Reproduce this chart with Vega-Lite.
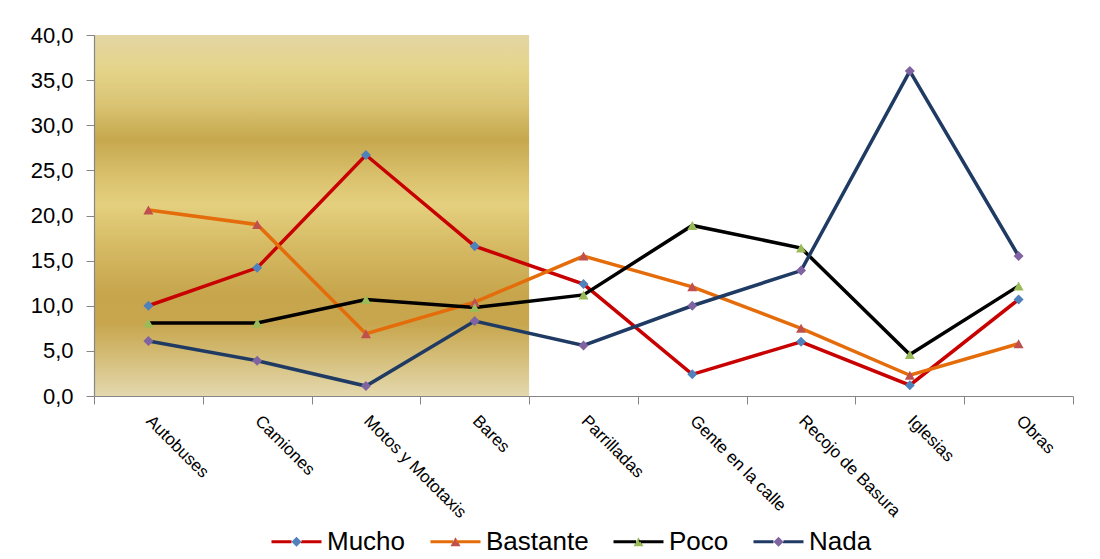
{
  "$schema": "https://vega.github.io/schema/vega-lite/v6.json",
  "width": 979,
  "height": 361,
  "autosize": "none",
  "padding": {"left": 94, "top": 35, "right": 27, "bottom": 163},
  "background": "white",
  "config": {"view": {"stroke": null}, "font": "Liberation Sans"},
  "datasets": {
    "zona": [{"desde": "Autobuses", "hasta": "Bares"}],
    "respuestas": [
      {"categoria": "Autobuses", "serie": "Mucho", "valor": 10.0},
      {"categoria": "Camiones", "serie": "Mucho", "valor": 14.2},
      {"categoria": "Motos y Mototaxis", "serie": "Mucho", "valor": 26.7},
      {"categoria": "Bares", "serie": "Mucho", "valor": 16.6},
      {"categoria": "Parrilladas", "serie": "Mucho", "valor": 12.4},
      {"categoria": "Gente en la calle", "serie": "Mucho", "valor": 2.4},
      {"categoria": "Recojo de Basura", "serie": "Mucho", "valor": 6.0},
      {"categoria": "Iglesias", "serie": "Mucho", "valor": 1.2},
      {"categoria": "Obras", "serie": "Mucho", "valor": 10.7},
      {"categoria": "Autobuses", "serie": "Bastante", "valor": 20.6},
      {"categoria": "Camiones", "serie": "Bastante", "valor": 19.0},
      {"categoria": "Motos y Mototaxis", "serie": "Bastante", "valor": 6.9},
      {"categoria": "Bares", "serie": "Bastante", "valor": 10.4},
      {"categoria": "Parrilladas", "serie": "Bastante", "valor": 15.5},
      {"categoria": "Gente en la calle", "serie": "Bastante", "valor": 12.1},
      {"categoria": "Recojo de Basura", "serie": "Bastante", "valor": 7.5},
      {"categoria": "Iglesias", "serie": "Bastante", "valor": 2.3},
      {"categoria": "Obras", "serie": "Bastante", "valor": 5.8},
      {"categoria": "Autobuses", "serie": "Poco", "valor": 8.1},
      {"categoria": "Camiones", "serie": "Poco", "valor": 8.1},
      {"categoria": "Motos y Mototaxis", "serie": "Poco", "valor": 10.7},
      {"categoria": "Bares", "serie": "Poco", "valor": 9.8},
      {"categoria": "Parrilladas", "serie": "Poco", "valor": 11.2},
      {"categoria": "Gente en la calle", "serie": "Poco", "valor": 18.9},
      {"categoria": "Recojo de Basura", "serie": "Poco", "valor": 16.4},
      {"categoria": "Iglesias", "serie": "Poco", "valor": 4.6},
      {"categoria": "Obras", "serie": "Poco", "valor": 12.2},
      {"categoria": "Autobuses", "serie": "Nada", "valor": 6.1},
      {"categoria": "Camiones", "serie": "Nada", "valor": 3.9},
      {"categoria": "Motos y Mototaxis", "serie": "Nada", "valor": 1.1},
      {"categoria": "Bares", "serie": "Nada", "valor": 8.3},
      {"categoria": "Parrilladas", "serie": "Nada", "valor": 5.6},
      {"categoria": "Gente en la calle", "serie": "Nada", "valor": 10.0},
      {"categoria": "Recojo de Basura", "serie": "Nada", "valor": 13.9},
      {"categoria": "Iglesias", "serie": "Nada", "valor": 36.0},
      {"categoria": "Obras", "serie": "Nada", "valor": 15.5}
    ]
  },
  "layer": [
    {
      "data": {"name": "zona"},
      "mark": {
        "type": "rect",
        "fill": {
          "gradient": "linear",
          "x1": 0, "y1": 0, "x2": 0, "y2": 1,
          "stops": [
            {"offset": 0, "color": "#e3d6a4"},
            {"offset": 0.1, "color": "#e4d488"},
            {"offset": 0.19, "color": "#dac474"},
            {"offset": 0.29, "color": "#c6a84e"},
            {"offset": 0.39, "color": "#d9c06c"},
            {"offset": 0.47, "color": "#e4d07f"},
            {"offset": 0.58, "color": "#d6bb64"},
            {"offset": 0.72, "color": "#c6a54c"},
            {"offset": 0.8, "color": "#c7a64e"},
            {"offset": 0.9, "color": "#d5bf7c"},
            {"offset": 1, "color": "#e4d8ae"}
          ]
        }
      },
      "encoding": {
        "x": {
          "field": "desde", "type": "nominal", "bandPosition": 0,
          "scale": {"type": "band", "paddingInner": 0, "paddingOuter": 0,
            "domain": ["Autobuses", "Camiones", "Motos y Mototaxis", "Bares", "Parrilladas", "Gente en la calle", "Recojo de Basura", "Iglesias", "Obras"]},
          "axis": {
            "title": null, "zindex": 1, "tickBand": "extent",
            "labelAngle": 45, "labelAlign": "left", "labelBaseline": "middle",
            "labelFont": "Liberation Sans", "labelFontSize": 17, "labelColor": "#000000",
            "labelPadding": 14, "labelLimit": 0, "labelOverlap": false,
            "tickSize": 8, "tickColor": "#868686", "domainColor": "#868686", "domainWidth": 1.2
          }
        },
        "x2": {"field": "hasta", "bandPosition": 1},
        "y": {"datum": 40, "type": "quantitative"},
        "y2": {"datum": 0}
      }
    },
    {
      "data": {"name": "respuestas"},
      "mark": {"type": "line", "strokeWidth": 3.5},
      "encoding": {
        "x": {
          "field": "categoria", "type": "nominal", "bandPosition": 0.5,
          "sort": ["Autobuses", "Camiones", "Motos y Mototaxis", "Bares", "Parrilladas", "Gente en la calle", "Recojo de Basura", "Iglesias", "Obras"],
          "scale": {"type": "band", "paddingInner": 0, "paddingOuter": 0,
            "domain": ["Autobuses", "Camiones", "Motos y Mototaxis", "Bares", "Parrilladas", "Gente en la calle", "Recojo de Basura", "Iglesias", "Obras"]},
          "axis": {
            "title": null, "zindex": 1, "tickBand": "extent",
            "labelAngle": 45, "labelAlign": "left", "labelBaseline": "middle",
            "labelFont": "Liberation Sans", "labelFontSize": 17, "labelColor": "#000000",
            "labelPadding": 14, "labelLimit": 0, "labelOverlap": false,
            "tickSize": 8, "tickColor": "#868686", "domainColor": "#868686", "domainWidth": 1.2
          }
        },
        "y": {
          "field": "valor", "type": "quantitative",
          "scale": {"domain": [0, 40], "nice": false, "zero": true},
          "axis": {
            "title": null, "zindex": 1, "grid": false,
            "values": [0, 5, 10, 15, 20, 25, 30, 35, 40],
            "labelExpr": "replace(format(datum.value, '.1f'), '.', ',')",
            "labelFont": "Liberation Sans", "labelFontSize": 22, "labelColor": "#000000",
            "labelPadding": 13, "tickSize": 8, "tickColor": "#868686",
            "domainColor": "#868686", "domainWidth": 1.2
          }
        },
        "color": {
          "field": "serie", "type": "nominal",
          "scale": {"domain": ["Mucho", "Bastante", "Poco", "Nada"],
            "range": ["#c80000", "#e46c0a", "#000000", "#1f3b63"]},
          "legend": {
            "title": null, "orient": "none", "direction": "horizontal",
            "legendX": 176, "legendY": 480, "padding": 0,
            "symbolSize": 2500, "symbolStrokeWidth": 3,
            "labelFont": "Liberation Sans", "labelFontSize": 26, "labelColor": "#000000",
            "labelOffset": 4, "columnPadding": 18, "labelLimit": 0,
            "encode": {
              "symbols": {
                "update": {
                  "shape": {"scale": "shape", "field": "value"},
                  "fill": {"scale": "fill", "field": "value"},
                  "stroke": {"scale": "color", "field": "value"},
                  "strokeWidth": {"value": 3},
                  "opacity": {"value": 1},
                  "strokeDash": {"signal": "datum.value === 'Bastante' || datum.value === 'Poco' ? [22.5, 10.3, 45, 25] : [20, 14.14, 40, 20]"}
                }
              }
            }
          }
        }
      }
    },
    {
      "data": {"name": "respuestas"},
      "mark": {"type": "point", "filled": true, "opacity": 1, "size": 2500, "strokeWidth": 0},
      "encoding": {
        "x": {
          "field": "categoria", "type": "nominal", "bandPosition": 0.5,
          "scale": {"type": "band", "paddingInner": 0, "paddingOuter": 0,
            "domain": ["Autobuses", "Camiones", "Motos y Mototaxis", "Bares", "Parrilladas", "Gente en la calle", "Recojo de Basura", "Iglesias", "Obras"]}
        },
        "y": {"field": "valor", "type": "quantitative"},
        "fill": {
          "field": "serie", "type": "nominal",
          "scale": {"domain": ["Mucho", "Bastante", "Poco", "Nada"],
            "range": ["#4f81bd", "#c0504d", "#9bbb59", "#8064a2"]},
          "legend": {
            "title": null, "orient": "none", "direction": "horizontal",
            "legendX": 176, "legendY": 480, "padding": 0,
            "symbolSize": 2500, "symbolStrokeWidth": 3,
            "labelFont": "Liberation Sans", "labelFontSize": 26, "labelColor": "#000000",
            "labelOffset": 4, "columnPadding": 18, "labelLimit": 0
          }
        },
        "shape": {
          "field": "serie", "type": "nominal",
          "scale": {"domain": ["Mucho", "Bastante", "Poco", "Nada"],
            "range": [
              "M-1,0L-0.2,0L0,-0.2L0.2,0L1,0L0.2,0L0,0.2L-0.2,0",
              "M-1,0L-0.1,0L0,-0.18L0.1,0L1,0L0.1,0L0.2,0.18L-0.2,0.18L-0.1,0",
              "M-1,0L-0.1,0L0,-0.18L0.1,0L1,0L0.1,0L0.2,0.18L-0.2,0.18L-0.1,0",
              "M-1,0L-0.2,0L0,-0.2L0.2,0L1,0L0.2,0L0,0.2L-0.2,0"
            ]},
          "legend": {
            "title": null, "orient": "none", "direction": "horizontal",
            "legendX": 176, "legendY": 480, "padding": 0,
            "symbolSize": 2500, "symbolStrokeWidth": 3,
            "labelFont": "Liberation Sans", "labelFontSize": 26, "labelColor": "#000000",
            "labelOffset": 4, "columnPadding": 18, "labelLimit": 0
          }
        }
      }
    }
  ]
}
